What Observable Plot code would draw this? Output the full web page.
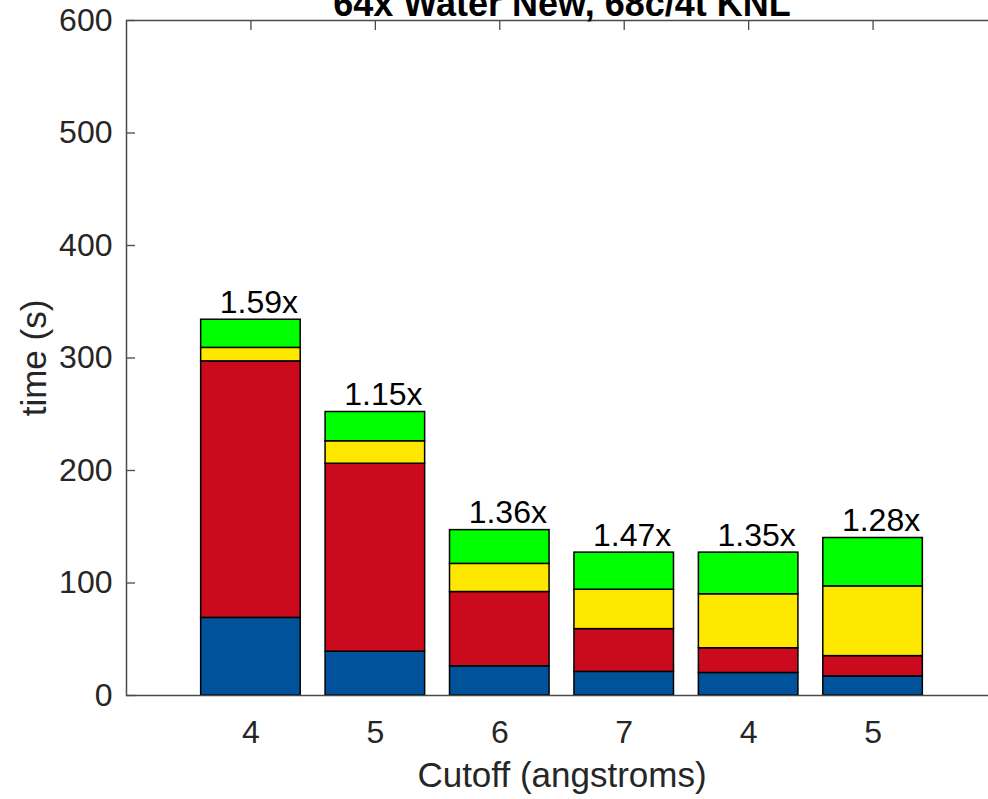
<!DOCTYPE html>
<html>
<head>
<meta charset="utf-8">
<script src="https://cdn.jsdelivr.net/npm/d3@7"></script>
<script src="https://cdn.jsdelivr.net/npm/@observablehq/plot@0.6"></script>
<style>
  html, body { margin: 0; padding: 0; background: #ffffff; }
  #wrap { position: relative; width: 988px; height: 799px; overflow: hidden; background: #fff; }
</style>
</head>
<body>
<div id="wrap"></div>
<script>
// ---- data ----
const titleText = "64x Water New, 68c/4t KNL";
const xLabel = "Cutoff (angstroms)";
const yLabel = "time (s)";
const cutoffs = ["4", "5", "6", "7", "4", "5"];
const seg1 = [69, 39, 26, 21, 20, 17];     // blue (bottom)
const seg2 = [228, 167, 66, 38, 22, 18];   // red
const seg3 = [12, 20, 25, 35, 48, 62];     // yellow
const seg4 = [25, 26, 30, 33, 37, 43];     // green (top)
const speedups = ["1.59x", "1.15x", "1.36x", "1.47x", "1.35x", "1.28x"];
const yTicks = [0, 100, 200, 300, 400, 500, 600];
const seriesNames = ["seg1", "seg2", "seg3", "seg4"];
const seriesColors = ["#00529b", "#cc0a1e", "#ffe800", "#00ff00"];

// ---- build stacked table ----
const seriesData = [seg1, seg2, seg3, seg4];
const positions = cutoffs.map((_, i) => i + 1);
const rows = [];
const totals = [];
positions.forEach((p, i) => {
  let acc = 0;
  seriesData.forEach((s, k) => {
    rows.push({pos: p, series: seriesNames[k], y1: acc, y2: acc + s[i]});
    acc += s[i];
  });
  totals.push({pos: p, total: acc, label: speedups[i]});
});

const axisColor = "#262626";
const font = "'Liberation Sans', Arial, Helvetica, sans-serif";

const chart = Plot.plot({
  width: 1000,
  height: 799,
  marginLeft: 126,
  marginRight: 3,
  marginTop: 20,
  marginBottom: 104,
  style: {fontFamily: font, maxWidth: "none", overflow: "hidden", background: "#fff"},
  x: {type: "linear", domain: [0, 7]},
  y: {domain: [0, 600]},
  color: {type: "ordinal", domain: seriesNames, range: seriesColors},
  marks: [
    Plot.rect(rows, {
      x1: d => d.pos - 0.4, x2: d => d.pos + 0.4,
      y1: "y1", y2: "y2",
      fill: "series", stroke: "#000", strokeWidth: 1.5
    }),
    Plot.frame({stroke: "#4a4a4a", strokeWidth: 1.5}),
    // inward ticks
    Plot.axisY(yTicks, {anchor: "left", tickSize: -9, text: null, label: null, color: "#4a4a4a", strokeWidth: 1.3}),
    Plot.axisY(yTicks, {anchor: "right", tickSize: -9, text: null, label: null, color: "#4a4a4a", strokeWidth: 1.3}),
    Plot.axisX(positions, {anchor: "top", tickSize: -9, text: null, label: null, color: "#4a4a4a", strokeWidth: 1.3}),
    // tick labels
    Plot.axisY(yTicks, {anchor: "left", tickSize: 0, tickPadding: 14, label: null, fontSize: 32, color: axisColor}),
    Plot.axisX(positions, {anchor: "bottom", tickSize: 0, tickPadding: 25, label: null, fontSize: 32, color: axisColor,
      tickFormat: d => cutoffs[d - 1]}),
    // speedup labels
    Plot.text(totals, {x: "pos", y: "total", text: "label", textAnchor: "middle", lineAnchor: "bottom", dx: 8, dy: -7, fontSize: 32, fill: "#000"}),
    // axis labels and title
    Plot.text([xLabel], {text: d => d, frameAnchor: "bottom", textAnchor: "middle", lineAnchor: "top", dy: 67, fontSize: 35, fill: axisColor}),
    Plot.text([yLabel], {text: d => d, frameAnchor: "left", textAnchor: "middle", rotate: -90, dx: -92, fontSize: 35, fill: axisColor}),
    Plot.text([titleText], {text: d => d, frameAnchor: "top", textAnchor: "middle", lineAnchor: "bottom", dy: -5, fontSize: 36, fontWeight: "bold", fill: "#000"})
  ]
});
document.getElementById("wrap").appendChild(chart);
</script>
</body>
</html>
